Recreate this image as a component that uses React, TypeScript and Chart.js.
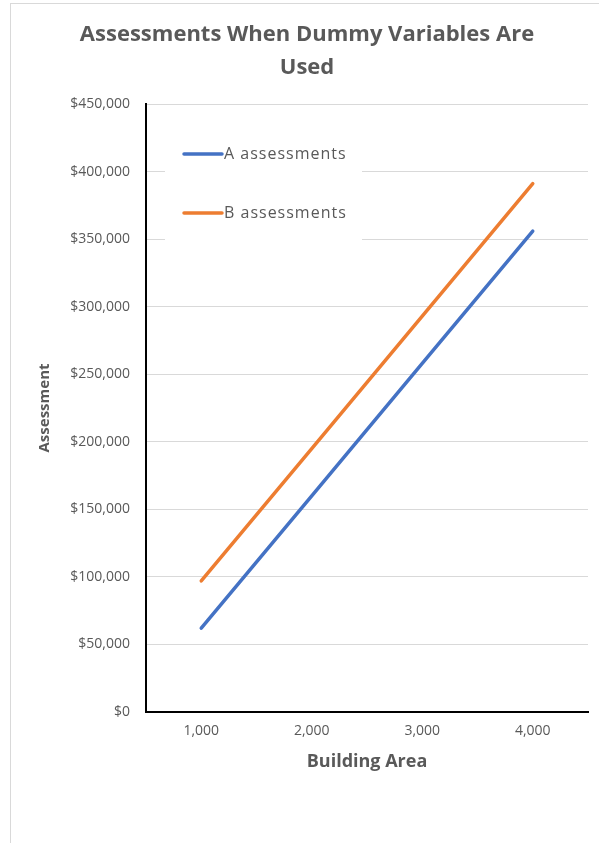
import React, { useEffect, useRef } from 'react';
import { Chart, registerables } from 'chart.js';

Chart.register(...registerables);

const FONT = '"Open Sans", Lato, "Liberation Sans", sans-serif';
const GREY = '#595959';

const titleLines = ['Assessments When Dummy Variables Are', 'Used'];
const categories = ['1,000', '2,000', '3,000', '4,000'];
const aLabel = 'A assessments';
const bLabel = 'B assessments';
const aValues = [62000, 160000, 258000, 356000];
const bValues = [97000, 195000, 293000, 391000];
const yMin = 0;
const yMax = 450000;
const yStep = 50000;
const xTitle = 'Building Area';
const yTitle = 'Assessment';

const insideLegend = {
  id: 'insideLegend',
  afterDatasetsDraw(chart: any) {
    const ctx = chart.ctx;
    ctx.save();
    ctx.fillStyle = '#ffffff';
    ctx.fillRect(154, 121, 197, 122);
    const rows = [150, 209];
    chart.data.datasets.forEach((ds: any, i: number) => {
      const y = rows[i];
      ctx.strokeStyle = ds.borderColor;
      ctx.lineWidth = 3.5;
      ctx.lineCap = 'round';
      ctx.beginPath();
      ctx.moveTo(173, y);
      ctx.lineTo(211, y);
      ctx.stroke();
      ctx.fillStyle = GREY;
      ctx.font = `16px ${FONT}`;
      try {
        (ctx as any).letterSpacing = '1px';
      } catch (e) {}
      ctx.textBaseline = 'middle';
      ctx.textAlign = 'left';
      ctx.fillText(ds.label, 213, y);
    });
    ctx.restore();
  },
};

export default function App() {
  const ref = useRef<HTMLCanvasElement>(null);
  useEffect(() => {
    const chart = new Chart(ref.current!, {
      type: 'line',
      data: {
        labels: categories,
        datasets: [
          {
            label: aLabel,
            data: aValues,
            borderColor: '#4472C4',
            backgroundColor: '#4472C4',
            borderWidth: 3.5,
            borderCapStyle: 'round',
            pointRadius: 0,
            tension: 0,
          },
          {
            label: bLabel,
            data: bValues,
            borderColor: '#ED7D31',
            backgroundColor: '#ED7D31',
            borderWidth: 3.5,
            borderCapStyle: 'round',
            pointRadius: 0,
            tension: 0,
          },
        ],
      },
      options: {
        responsive: false,
        animation: false,
        layout: { padding: { top: 0, right: 11, bottom: 61, left: 15 } },
        plugins: {
          legend: { display: false },
          tooltip: { enabled: false },
          title: {
            display: true,
            text: titleLines,
            color: GREY,
            font: { family: FONT, size: 22, weight: 'bold', lineHeight: 1.5 },
            padding: { top: 14, bottom: 20 },
          },
        },
        scales: {
          x: {
            type: 'category',
            offset: true,
            afterFit: (s: any) => {
              s.height = 70;
            },
            grid: { display: false, drawTicks: false },
            border: { display: true, color: '#000000', width: 2 },
            ticks: {
              color: GREY,
              padding: 11,
              font: { family: FONT, size: 14 },
            },
            title: {
              display: true,
              text: xTitle,
              color: GREY,
              font: { family: FONT, size: 18, weight: 'bold' },
              padding: { top: 0, bottom: 9 },
            },
          },
          y: {
            min: yMin,
            max: yMax,
            afterFit: (s: any) => {
              s.width = 120;
            },
            grid: { color: '#d9d9d9', lineWidth: 1, drawTicks: false },
            border: { display: true, color: '#000000', width: 2 },
            ticks: {
              stepSize: yStep,
              color: GREY,
              padding: 16,
              font: { family: FONT, size: 14 },
              callback: (v: any) => '$' + Number(v).toLocaleString('en-US'),
            },
            title: {
              display: true,
              text: yTitle,
              color: GREY,
              font: { family: FONT, size: 15, weight: 'bold' },
              padding: { top: 10, bottom: 0 },
            },
          },
        },
      },
      plugins: [insideLegend],
    } as any);
    return () => chart.destroy();
  }, []);
  return (
    <div
      style={{
        position: 'fixed',
        left: 10,
        top: 3,
        width: 589,
        height: 840,
        borderLeft: '1px solid #d9d9d9',
        borderTop: '1px solid #d9d9d9',
        background: '#ffffff',
      }}
    >
      <canvas ref={ref} width={588} height={839} style={{ display: 'block', width: 588, height: 839 }} />
    </div>
  );
}
